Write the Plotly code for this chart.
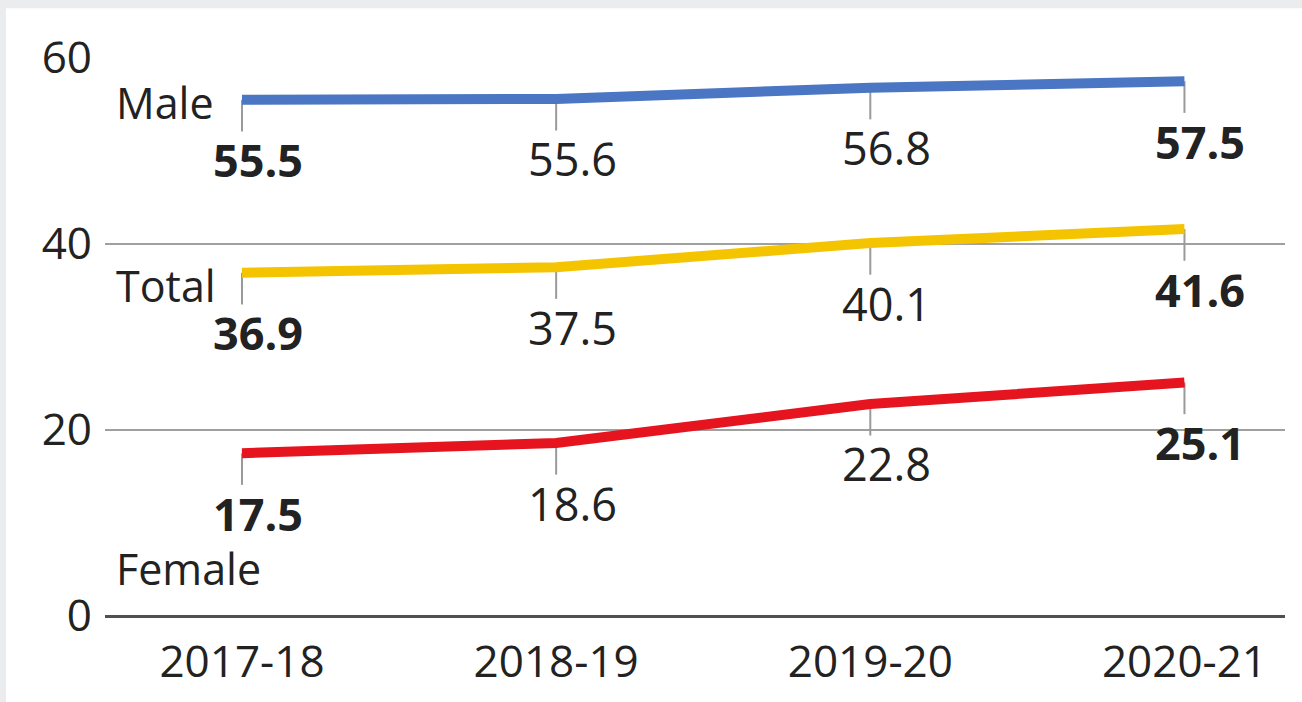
import plotly.graph_objects as go

years = ["2017-18", "2018-19", "2019-20", "2020-21"]
male = [55.5, 55.6, 56.8, 57.5]
total = [36.9, 37.5, 40.1, 41.6]
female = [17.5, 18.6, 22.8, 25.1]
series_names = ["Male", "Total", "Female"]
series_colors = ["#4a76c3", "#f5c400", "#e5141f"]
y_ticks = [0, 20, 40, 60]

FONT = "Open Sans"
TXT = "#222222"
FS = 44

fig = go.Figure()
xs = list(range(len(years)))
for name, vals, col in zip(series_names, [male, total, female], series_colors):
    fig.add_trace(go.Scatter(
        x=xs, y=vals, mode="lines", name=name,
        line=dict(color=col, width=10),
        error_y=dict(type="data", symmetric=False, array=[0] * len(vals),
                     arrayminus=[3.4] * len(vals), color="#9a9a9a",
                     thickness=2, width=0),
        hoverinfo="skip", showlegend=False,
    ))
    for i, v in enumerate(vals):
        txt = f"{v:.1f}"
        if i == 0 or i == len(vals) - 1:
            txt = f"<b>{txt}</b>"
        fig.add_annotation(x=i, y=v, text=txt, showarrow=False,
                           xanchor="center", yanchor="middle",
                           xshift=16, yshift=-60,
                           font=dict(family=FONT, size=45, color=TXT))

label_y = {"Male": 55.2, "Total": 35.5, "Female": 5.1}
for name in series_names:
    fig.add_annotation(xref="paper", x=0.008, y=label_y[name], text=name,
                       showarrow=False, xanchor="left", yanchor="middle",
                       font=dict(family=FONT, size=43, color=TXT))

# background white card with grey frame
fig.add_shape(type="rect", xref="paper", yref="paper", layer="below",
              x0=(6 - 105) / 1180, x1=(1400 - 105) / 1180,
              y0=-0.3, y1=(619.5 - 8) / 561.5,
              fillcolor="white", line=dict(width=0))

fig.update_layout(
    width=1302, height=702,
    margin=dict(l=105, r=17, t=58, b=82.5),
    paper_bgcolor="#eaeced", plot_bgcolor="rgba(0,0,0,0)",
    font=dict(family=FONT, size=FS, color=TXT),
)
fig.update_xaxes(
    tickmode="array", tickvals=xs, ticktext=years,
    range=[-0.436, 3.32], showgrid=False, zeroline=False,
    showline=False, ticks="", ticklabelstandoff=16,
    tickfont=dict(family=FONT, size=FS, color=TXT),
)
fig.update_yaxes(
    range=[0, 60], tickvals=y_ticks, showgrid=True,
    gridcolor="#a0a0a0", gridwidth=2,
    zeroline=True, zerolinecolor="#505050", zerolinewidth=3,
    showline=False, ticks="", ticklabelstandoff=12,
    tickfont=dict(family=FONT, size=FS, color=TXT),
)

fig.write_html("out.html", config={"displayModeBar": False},
               post_script="document.body.style.margin='0';"
                           "document.body.style.overflow='hidden';")
